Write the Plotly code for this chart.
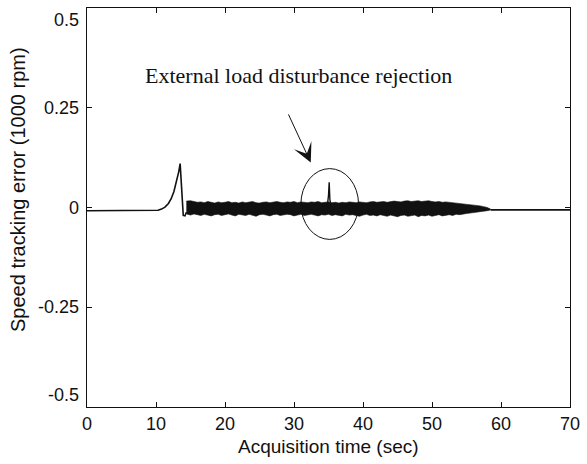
import plotly.graph_objects as go

# ---- data ----
# initial flat part, transient peak and its drop (time in s, error in 1000 rpm)
t_rise = [0.0, 10.0, 10.3, 10.8, 11.3, 11.8, 12.2, 12.6, 13.0, 13.3, 13.5, 13.65, 13.8, 13.95, 14.2, 14.4]
e_rise = [-0.008, -0.008, -0.007, -0.004, 0.001, 0.010, 0.022, 0.040, 0.066, 0.090, 0.110, 0.070, 0.010, -0.020, -0.021, -0.012]

# oscillation band (upper / lower envelope)
t_band = [14.4, 15.0, 15.5, 16.0, 16.5, 17.0, 17.5, 18.0, 18.5, 19.0,
          19.5, 20.0, 20.5, 21.0, 21.5, 22.0, 22.5, 23.0, 23.5, 24.0,
          24.5, 25.0, 25.5, 26.0, 26.5, 27.0, 27.5, 28.0, 28.5, 29.0,
          29.5, 30.0, 30.5, 31.0, 31.5, 32.0, 32.5, 33.0, 33.5, 34.0,
          34.5, 35.0, 35.5, 36.0, 36.5, 37.0, 37.5, 38.0, 38.5, 39.0,
          39.5, 40.0, 40.5, 41.0, 41.5, 42.0, 42.5, 43.0, 43.5, 44.0,
          44.5, 45.0, 45.5, 46.0, 46.5, 47.0, 47.5, 48.0, 48.5, 49.0,
          49.5, 50.0, 50.5, 51.0, 51.5, 52.0, 52.5, 53.0, 53.5, 54.0,
          54.5, 55.0, 55.5, 56.0, 56.5, 57.0, 57.5, 58.0, 58.5]
e_upper = [0.016, 0.017, 0.015, 0.013, 0.014, 0.012, 0.015, 0.013, 0.011, 0.014,
           0.012, 0.013, 0.015, 0.012, 0.013, 0.011, 0.014, 0.012, 0.013, 0.015,
           0.012, 0.011, 0.013, 0.014, 0.012, 0.013, 0.015, 0.013, 0.012, 0.014,
           0.013, 0.015, 0.012, 0.014, 0.013, 0.012, 0.014, 0.013, 0.015, 0.012,
           0.013, 0.014, 0.012, 0.013, 0.011, 0.013, 0.012, 0.014, 0.013, 0.012,
           0.014, 0.013, 0.012, 0.014, 0.015, 0.013, 0.014, 0.015, 0.013, 0.014,
           0.016, 0.015, 0.014, 0.016, 0.017, 0.015, 0.016, 0.017, 0.015, 0.016,
           0.017, 0.015, 0.014, 0.015, 0.013, 0.014, 0.013, 0.012, 0.011, 0.011,
           0.010, 0.009, 0.008, 0.007, 0.005, 0.004, 0.002, 0.000, -0.004]
e_lower = [-0.016, -0.019, -0.016, -0.018, -0.020, -0.017, -0.019, -0.021, -0.018, -0.017,
           -0.020, -0.018, -0.016, -0.019, -0.021, -0.017, -0.018, -0.020, -0.017, -0.019,
           -0.022, -0.018, -0.017, -0.019, -0.021, -0.018, -0.017, -0.020, -0.019, -0.017,
           -0.018, -0.021, -0.019, -0.017, -0.020, -0.018, -0.017, -0.019, -0.021, -0.018,
           -0.019, -0.017, -0.020, -0.018, -0.019, -0.021, -0.017, -0.019, -0.018, -0.020,
           -0.022, -0.019, -0.017, -0.020, -0.019, -0.021, -0.018, -0.020, -0.022, -0.019,
           -0.021, -0.023, -0.020, -0.019, -0.022, -0.021, -0.019, -0.023, -0.020, -0.021,
           -0.019, -0.022, -0.020, -0.018, -0.021, -0.019, -0.018, -0.020, -0.017, -0.018,
           -0.016, -0.015, -0.014, -0.013, -0.012, -0.011, -0.009, -0.008, -0.006]

# load-disturbance spike
t_spike = [34.8, 35.0, 35.1, 35.2, 35.4]
e_spike = [0.000, 0.030, 0.063, 0.020, 0.000]

# final flat part
t_tail = [58.5, 70.0]
e_tail = [-0.006, -0.006]

x_ticks = [0, 10, 20, 30, 40, 50, 60, 70]
y_ticks = [-0.5, -0.25, 0, 0.25, 0.5]
y_tick_text = ["-0.5", "-0.25", "0", "0.25", "0.5"]

# annotation geometry (data units)
ellipse_x = [31.0, 39.35]
ellipse_y = [-0.08, 0.0975]
arrow_tail = (29.1, 0.237)
arrow_tip = (32.43, 0.1125)
note_pos = (30.7, 0.33)
note_text = "External load disturbance rejection"

BLK = "#111111"
fig = go.Figure()
fig.add_trace(go.Scatter(x=t_rise, y=e_rise, mode="lines",
                         line=dict(color=BLK, width=1.6), showlegend=False))
fig.add_trace(go.Scatter(x=t_band, y=e_upper, mode="lines",
                         line=dict(color=BLK, width=0.6), showlegend=False))
fig.add_trace(go.Scatter(x=t_band, y=e_lower, mode="lines", fill="tonexty",
                         fillcolor=BLK, line=dict(color=BLK, width=0.6), showlegend=False))
fig.add_trace(go.Scatter(x=t_spike, y=e_spike, mode="lines",
                         line=dict(color=BLK, width=1.4), showlegend=False))
fig.add_trace(go.Scatter(x=t_tail, y=e_tail, mode="lines",
                         line=dict(color=BLK, width=1.8), showlegend=False))

fig.add_shape(type="circle", xref="x", yref="y",
              x0=ellipse_x[0], x1=ellipse_x[1], y0=ellipse_y[0], y1=ellipse_y[1],
              line=dict(color=BLK, width=1))

fig.add_annotation(x=arrow_tip[0], y=arrow_tip[1], ax=arrow_tail[0], ay=arrow_tail[1],
                   xref="x", yref="y", axref="x", ayref="y", text="",
                   showarrow=True, arrowhead=3, arrowsize=3.2, arrowwidth=1, arrowcolor=BLK)
fig.add_annotation(x=note_pos[0], y=note_pos[1], xref="x", yref="y", text=note_text,
                   showarrow=False, font=dict(family="Liberation Serif, Times New Roman, serif",
                                              size=22, color=BLK))

sans = "Liberation Sans, Arial, Helvetica, sans-serif"
# y tick labels (end labels kept inside the axis box, as in the reference)
for v, s in zip(y_ticks, y_tick_text):
    anchor = "top" if v == max(y_ticks) else ("bottom" if v == min(y_ticks) else "middle")
    fig.add_annotation(x=0, y=v, xref="paper", yref="y", text=s, showarrow=False,
                       xanchor="right", yanchor=anchor, xshift=-6,
                       font=dict(family=sans, size=18, color=BLK))

fig.add_annotation(x=0.5, y=-0.1, xref="paper", yref="paper", text="Acquisition time (sec)",
                   showarrow=False, yanchor="middle",
                   font=dict(family=sans, size=19, color=BLK))
fig.add_annotation(x=-0.144, y=0.545, xref="paper", yref="paper",
                   text="Speed tracking error (1000 rpm)", textangle=-90,
                   showarrow=False, xanchor="center", yanchor="middle",
                   font=dict(family=sans, size=20, color=BLK))

axis_common = dict(showline=True, linecolor=BLK, linewidth=1, mirror="ticks",
                   ticks="inside", ticklen=5, tickcolor=BLK, showgrid=False,
                   zeroline=False, tickfont=dict(family=sans, size=18, color=BLK))
fig.update_xaxes(range=[0, 70], tickvals=x_ticks, **axis_common)
fig.update_yaxes(range=[-0.5, 0.5], tickvals=y_ticks, showticklabels=False, **axis_common)

fig.update_layout(width=587, height=464, margin=dict(l=87, r=14, t=7, b=57),
                  plot_bgcolor="white", paper_bgcolor="white")

fig.write_html("out.html")
